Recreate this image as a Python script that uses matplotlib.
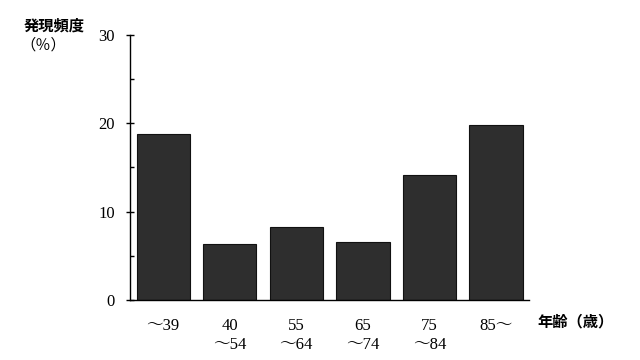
import matplotlib
matplotlib.use("Agg")
import matplotlib.pyplot as plt
from matplotlib.ticker import MultipleLocator

categories = ["〜39", "40\n〜54", "55\n〜64", "65\n〜74", "75\n〜84", "85〜"]
values = [18.8, 6.3, 8.3, 6.6, 14.1, 19.8]
yticks = [0, 10, 20, 30]

serif = ["Liberation Serif", "Noto Serif CJK JP", "Noto Sans CJK JP"]
cjk = ["Noto Sans CJK JP", "DejaVu Sans"]

fig = plt.figure(figsize=(6.4, 3.6), dpi=100)
ax = fig.add_axes([0.203, 0.167, 0.624, 0.736])

x = list(range(len(categories)))
ax.bar(x, values, width=0.8, color="#2e2e2e", edgecolor="#111111", linewidth=0.8)

ax.set_xlim(-0.5, 5.5)
ax.set_ylim(0, 30)
ax.set_yticks(yticks)
ax.yaxis.set_minor_locator(MultipleLocator(5))
ax.set_xticks(x)
ax.set_xticklabels(categories, family=serif, fontsize=12, linespacing=1.25)
for lbl in ax.get_yticklabels():
    lbl.set_family(serif)
    lbl.set_fontsize(12)

for s in ["top", "right"]:
    ax.spines[s].set_visible(False)
ax.spines["left"].set_linewidth(1.0)
ax.spines["bottom"].set_linewidth(1.0)
ax.tick_params(axis="y", which="major", direction="inout", length=6, width=1, pad=8)
ax.tick_params(axis="y", which="minor", direction="in", length=3, width=1)
ax.tick_params(axis="x", which="major", length=0, pad=13)

fig.text(0.084, 0.928, "発現頻度", family=cjk, fontsize=11, fontweight="bold",
         ha="center", va="center")
fig.text(0.068, 0.875, "（％）", family=cjk, fontsize=11,
         ha="center", va="center")
fig.text(0.9, 0.108, "年齢（歳）", family=cjk, fontsize=11, fontweight="bold",
         ha="center", va="center")

fig.savefig("out.png", dpi=100)
